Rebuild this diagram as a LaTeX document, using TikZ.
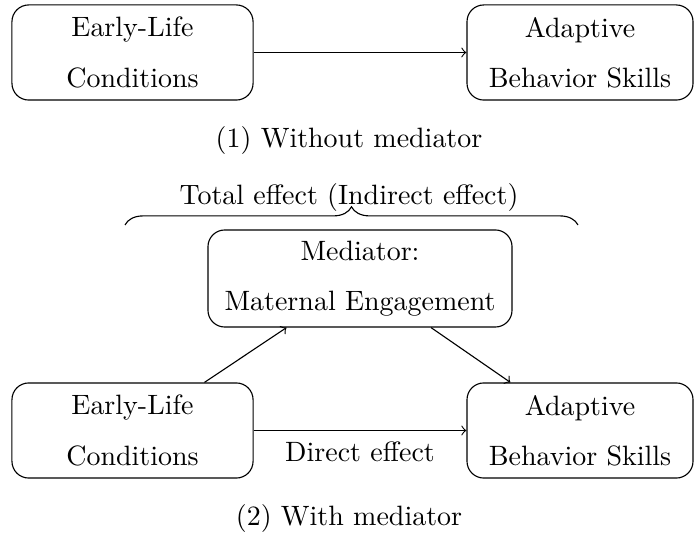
\documentclass[tikz,border=0pt]{standalone}
\usetikzlibrary{decorations.pathreplacing}
\begin{document}
\begin{tikzpicture}[x=0.3575pt,y=-0.3575pt,
  box/.style={draw,rounded corners=6pt,align=center,inner sep=0pt},
  lbl/.style={inner sep=0pt}]
\useasboundingbox (0,0) rectangle (698,541);
% (1)
\node[box,minimum width=86.2pt,minimum height=34pt] (el1) at (132.5,52.5) {Early-Life\\[6pt]Conditions};
\node[box,minimum width=80.8pt,minimum height=34pt] (ab1) at (580,52.5) {Adaptive\\[6pt]Behavior Skills};
\draw[->] (el1) -- (ab1);
\node[lbl] (cap1) at (349,141) {(1) Without mediator};
% (2)
\node[lbl] (tot) at (349,198) {Total effect (Indirect effect)};
\coordinate (bl) at (125,225);
\coordinate (br) at (578,225);
\draw[decorate,decoration={brace,amplitude=6.5pt}] (bl) -- (br);
\node[box,minimum width=108.7pt,minimum height=34.7pt] (med) at (360,278.5) {Mediator:\\[6pt]Maternal Engagement};
\node[box,minimum width=86.2pt,minimum height=34pt] (el2) at (132.5,430.5) {Early-Life\\[6pt]Conditions};
\node[box,minimum width=80.8pt,minimum height=34pt] (ab2) at (580,430.5) {Adaptive\\[6pt]Behavior Skills};
\draw[->] (el2) -- (med);
\draw[->] (med) -- (ab2);
\draw[->] (el2) -- node[below=0.5pt] (de) {Direct effect} (ab2);
\node[lbl] (cap2) at (349,519) {(2) With mediator};
\end{tikzpicture}
\end{document}
